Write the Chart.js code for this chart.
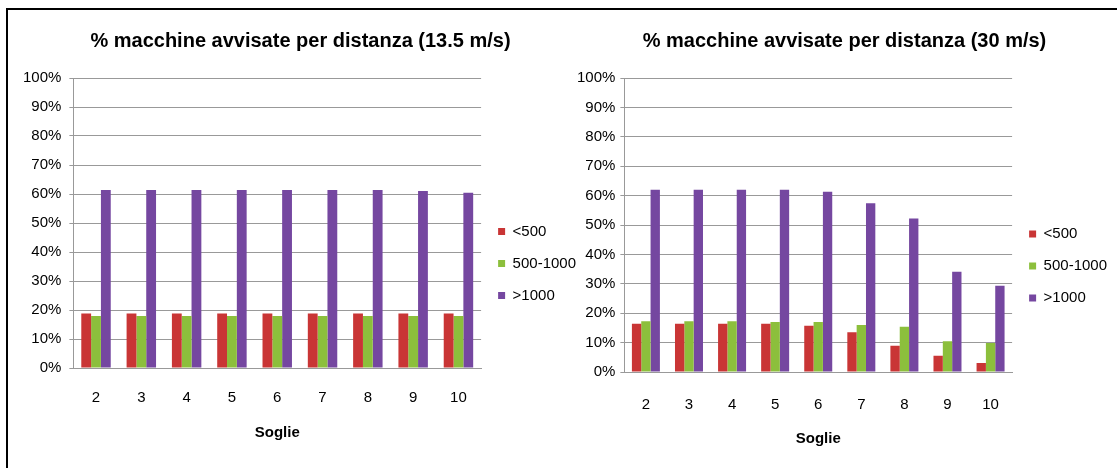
<!DOCTYPE html>
<html>
<head>
<meta charset="utf-8">
<script src="https://cdn.jsdelivr.net/npm/chart.js@4.4.1/dist/chart.umd.min.js"></script>
<style>
  body { margin: 0; background: #fff; width: 1117px; height: 468px; overflow: hidden; }
  .frame { position: absolute; left: 6px; top: 8px; right: 0; bottom: 0;
           border-left: 2px solid #000; border-top: 2px solid #000; }
  .box { position: absolute; top: 10px; height: 458px; }
</style>
</head>
<body>
<div class="frame"></div>
<div class="box" style="left:8px; width:578px;"><canvas id="chartLeft"></canvas></div>
<div class="box" style="left:560px; width:557px;"><canvas id="chartRight"></canvas></div>
<script>
// Soglie on x axis
const soglie = ['2', '3', '4', '5', '6', '7', '8', '9', '10'];
const seriesNames = ['<500', '500-1000', '>1000'];

// 13.5 m/s (values in %)
const slowUnder500 = [18.8, 18.8, 18.8, 18.8, 18.8, 18.8, 18.8, 18.8, 18.8];
const slow500to1000 = [17.9, 17.9, 17.9, 17.9, 17.9, 17.9, 17.9, 17.9, 17.9];
const slowOver1000 = [61.4, 61.4, 61.4, 61.4, 61.4, 61.4, 61.4, 61.0, 60.4];

// 30 m/s (values in %)
const fastUnder500 = [16.4, 16.4, 16.4, 16.4, 15.7, 13.5, 8.9, 5.5, 3.1];
const fast500to1000 = [17.3, 17.3, 17.3, 17.0, 17.0, 16.0, 15.4, 10.5, 9.9];
const fastOver1000 = [62.0, 62.0, 62.0, 62.0, 61.3, 57.4, 52.2, 34.1, 29.3];

const barColors = ['#C93535', '#8CBF3C', '#7547A0'];
const FONT = '"Liberation Sans", Arial, sans-serif';

function makeChart(id, title, series, pad, cfg) {
    const ctx = document.getElementById(id).getContext('2d');
    return new Chart(ctx, {
        type: 'bar',
        data: {
            labels: soglie,
            datasets: series.map((vals, i) => ({
                label: seriesNames[i],
                data: vals,
                backgroundColor: barColors[i],
                borderWidth: 0,
                categoryPercentage: 0.65,
                barPercentage: 1.0
            }))
        },
        options: {
            responsive: true,
            maintainAspectRatio: false,
            animation: false,
            layout: { padding: pad },
            plugins: {
                title: {
                    display: true, text: title, color: '#000',
                    font: { family: FONT, size: 20, weight: 'bold' },
                    padding: { top: 19, bottom: 25 }
                },
                legend: {
                    position: 'right',
                    // blank legend title only pushes the entries down
                    title: { display: true, text: ' ', font: { size: 10 }, padding: { top: 0, bottom: cfg.legendShift } },
                    labels: {
                        color: '#000', boxWidth: 7, boxHeight: 7, padding: 17,
                        font: { family: FONT, size: 15 }
                    }
                },
                tooltip: { enabled: false }
            },
            scales: {
                x: {
                    grid: { display: false, drawTicks: false },
                    border: { color: '#999' },
                    ticks: { color: '#000', padding: cfg.xTickPad, font: { family: FONT, size: 15 } },
                    title: {
                        display: true, text: 'Soglie', color: '#000',
                        font: { family: FONT, size: 15, weight: 'bold' },
                        padding: { top: cfg.titleGap }
                    }
                },
                y: {
                    min: 0, max: 100,
                    grid: { color: '#999', tickLength: 4 },
                    border: { color: '#999' },
                    ticks: {
                        stepSize: 10, color: '#000', padding: cfg.yTickPad,
                        font: { family: FONT, size: 15 },
                        callback: v => v + '%'
                    }
                }
            }
        }
    });
}

makeChart('chartLeft', '% macchine avvisate per distanza (13.5 m/s)',
    [slowUnder500, slow500to1000, slowOver1000],
    { left: 7, right: 0, top: 0, bottom: 22 },
    { legendShift: 59, xTickPad: 21, yTickPad: 8, titleGap: -4 });
makeChart('chartRight', '% macchine avvisate per distanza (30 m/s)',
    [fastUnder500, fast500to1000, fastOver1000],
    { left: 12, right: 0, top: 0, bottom: 16 },
    { legendShift: 58, xTickPad: 24, yTickPad: 5, titleGap: -8 });
</script>
</body>
</html>
